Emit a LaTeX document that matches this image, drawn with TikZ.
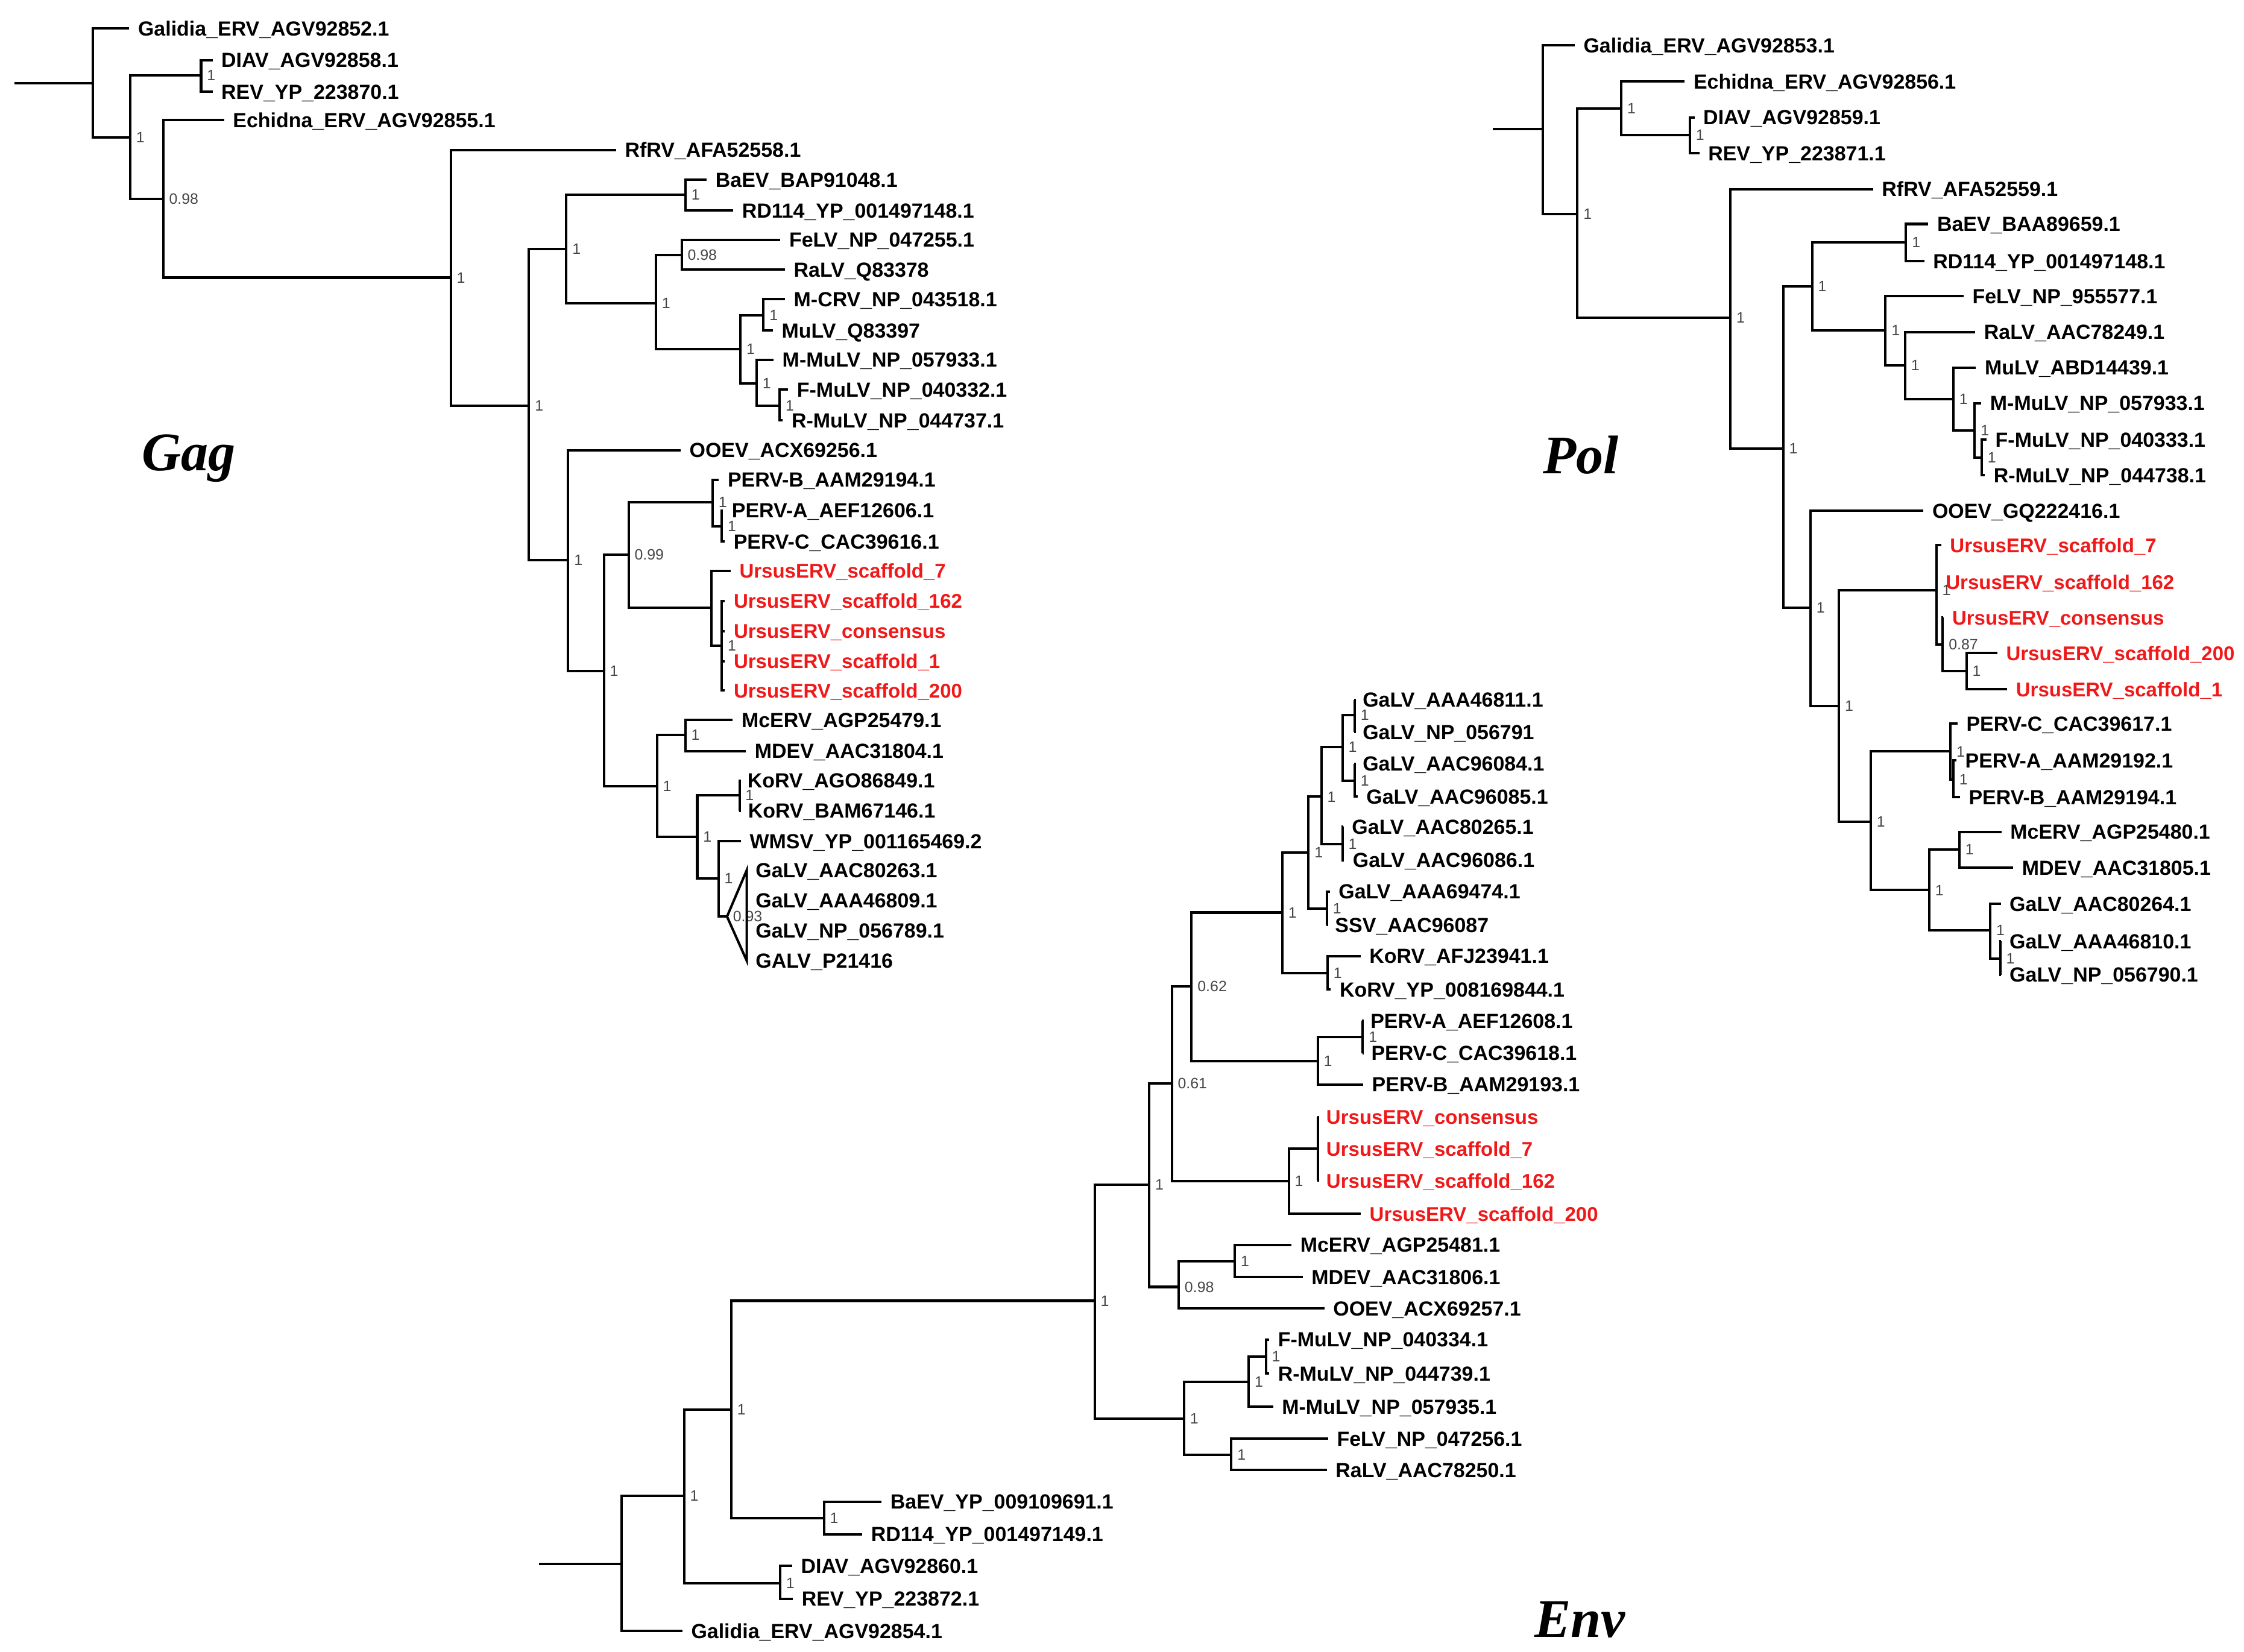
\documentclass[tikz,border=0pt]{standalone}
\usepackage{fontspec}
\setmainfont{Liberation Sans}
\newfontfamily\titlefont{Liberation Serif}
\usetikzlibrary{positioning}
\definecolor{bsgray}{RGB}{70,70,70}
\definecolor{ursusred}{RGB}{240,24,24}
\tikzset
{%
branch/.style={draw, line width=1.7pt, to path={|- (\tikztotarget)}},
leaf/.style={anchor=west, inner xsep=6pt, inner ysep=0pt, text height=10.2pt, text depth=0pt, font=\bfseries\fontsize{14.3}{16}\selectfont},
ursus/.style={leaf, text=ursusred, font=\bfseries\fontsize{13.9}{16}\selectfont},
bslab/.style={inner sep=1pt, xshift=3pt, text=bsgray, font=\fontsize{10.5}{12}\selectfont},
bs/.style={label={[bslab]right:#1}},
title/.style={anchor=base west, inner sep=0pt, font=\titlefont\bfseries\itshape\fontsize{38}{40}\selectfont}
}
\begin{document}
\begin{tikzpicture}[x=1pt, y=-1pt]
	\useasboundingbox (0,0) rectangle (1568,1154);

		% [GAG]

		\node[title] (tGag) at (99,329) {Gag};
		\coordinate (g0) at (10,58);
		\coordinate (gA) at (65,58);
		\node[leaf] (gGalidia) at (90.3,20) {Galidia\_ERV\_AGV92852.1};
		\coordinate[bs=1] (gB) at (91,96);
		\coordinate[bs=1] (gC) at (140.5,52.5);
		\node[leaf] (gDIAV) at (148.5,42) {DIAV\_AGV92858.1};
		\node[leaf] (gREV) at (148.5,64) {REV\_YP\_223870.1};
		\coordinate[bs=0.98] (gD) at (114,139);
		\node[leaf] (gEchidna) at (156.6,84) {Echidna\_ERV\_AGV92855.1};
		\coordinate[bs=1] (gE) at (315,194);
		\node[leaf] (gRfRV) at (430.5,104.7) {RfRV\_AFA52558.1};
		\coordinate[bs=1] (gF) at (369.6,283.6);
		\coordinate[bs=1] (gG) at (395.7,174.1);
		\coordinate[bs=1] (gH) at (479,136.2);
		\node[leaf] (gBaEV) at (493.8,125.6) {BaEV\_BAP91048.1};
		\node[leaf] (gRD) at (512.3,147.2) {RD114\_YP\_001497148.1};
		\coordinate[bs=1] (gI) at (458.3,211.9);
		\coordinate[bs=0.98] (gJ) at (476.3,178.3);
		\node[leaf] (gFeLV) at (545.3,167.5) {FeLV\_NP\_047255.1};
		\node[leaf] (gRaLV) at (548.5,188.4) {RaLV\_Q83378};
		\coordinate[bs=1] (gK) at (517.4,244);
		\coordinate[bs=1] (gL) at (533.5,220.4);
		\node[leaf] (gMCRV) at (548.5,209.1) {M-CRV\_NP\_043518.1};
		\node[leaf] (gMuLV) at (540,231) {MuLV\_Q83397};
		\coordinate[bs=1] (gM) at (528.7,267.8);
		\node[leaf] (gMMuLV) at (540.5,251.3) {M-MuLV\_NP\_057933.1};
		\coordinate[bs=1] (gN) at (544.8,283.6);
		\node[leaf] (gFMuLV) at (550.7,272.3) {F-MuLV\_NP\_040332.1};
		\node[leaf] (gRMuLV) at (547,293.8) {R-MuLV\_NP\_044737.1};
		\coordinate[bs=1] (gO) at (397,391.5);
		\node[leaf] (gOOEV) at (475.6,314.6) {OOEV\_ACX69256.1};
		\coordinate[bs=1] (gP) at (422,469);
		\coordinate[bs=0.99] (gQ) at (439.2,387.6);
		\coordinate[bs=1] (gR) at (497.9,351);
		\node[leaf] (gPERVB) at (502.3,335.2) {PERV-B\_AAM29194.1};
		\coordinate[bs=1] (gS) at (504.3,367.6);
		\node[leaf] (gPERVA) at (505.2,356.7) {PERV-A\_AEF12606.1};
		\node[leaf] (gPERVC) at (506.4,378.5) {PERV-C\_CAC39616.1};
		\coordinate (gT) at (497,424.8);
		\node[ursus] (gU7) at (510.5,398.8) {UrsusERV\_scaffold\_7};
		\coordinate[bs=1] (gU) at (504.3,451);
		\node[ursus] (gU162) at (506.5,419.9) {UrsusERV\_scaffold\_162};
		\node[ursus] (gUcons) at (506.5,441) {UrsusERV\_consensus};
		\node[ursus] (gU1) at (506.5,462) {UrsusERV\_scaffold\_1};
		\node[ursus] (gU200) at (506.5,482.4) {UrsusERV\_scaffold\_200};
		\coordinate[bs=1] (gV) at (459,549.4);
		\coordinate[bs=1] (gW) at (478.8,513.7);
		\node[leaf] (gMcERV) at (512,503.2) {McERV\_AGP25479.1};
		\node[leaf] (gMDEV) at (521.2,524.8) {MDEV\_AAC31804.1};
		\coordinate[bs=1] (gX) at (487.2,584.9);
		\coordinate[bs=1] (gY) at (516.7,555.8);
		\node[leaf] (gKoRV1) at (516.1,545.5) {KoRV\_AGO86849.1};
		\node[leaf] (gKoRV2) at (516.5,566.5) {KoRV\_BAM67146.1};
		\coordinate[bs=1] (gZ) at (502,613.7);
		\node[leaf] (gWMSV) at (517.7,587.7) {WMSV\_YP\_001165469.2};
		\coordinate[bs=0.93] (gTri) at (508,640.4);
		\node[leaf] (gGaLV1) at (521.8,608) {GaLV\_AAC80263.1};
		\node[leaf] (gGaLV2) at (521.8,629.2) {GaLV\_AAA46809.1};
		\node[leaf] (gGaLV3) at (521.8,650.2) {GaLV\_NP\_056789.1};
		\node[leaf] (gGaLV4) at (521.8,671.3) {GALV\_P21416};

		\draw[branch] (g0) -- (gA);
		\path[branch] (gA) edge (gGalidia) edge (gB)
		(gB) edge (gC) edge (gD)
		(gC) edge (gDIAV) edge (gREV)
		(gD) edge (gEchidna) edge (gE)
		(gE) edge (gRfRV) edge (gF)
		(gF) edge (gG) edge (gO)
		(gG) edge (gH) edge (gI)
		(gH) edge (gBaEV) edge (gRD)
		(gI) edge (gJ) edge (gK)
		(gJ) edge (gFeLV) edge (gRaLV)
		(gK) edge (gL) edge (gM)
		(gL) edge (gMCRV) edge (gMuLV)
		(gM) edge (gMMuLV) edge (gN)
		(gN) edge (gFMuLV) edge (gRMuLV);
		\path[branch] (gO) edge (gOOEV) edge (gP)
		(gP) edge (gQ) edge (gV)
		(gQ) edge (gR) edge (gT)
		(gR) edge (gPERVB) edge (gS)
		(gS) edge (gPERVA) edge (gPERVC)
		(gT) edge (gU7) edge (gU)
		(gU) edge (gU162) edge (gUcons) edge (gU1) edge (gU200)
		(gV) edge (gW) edge (gX)
		(gW) edge (gMcERV) edge (gMDEV)
		(gX) edge (gY) edge (gZ)
		(gY) edge (gKoRV1) edge (gKoRV2)
		(gZ) edge (gWMSV) edge (gTri);
		\draw[branch] (gTri) -- (gGaLV1.west) -- (gGaLV4.west) -- cycle;

		% [POL]

		\node[title] (tPol) at (1078,331) {Pol};
		\coordinate (p0) at (1043,90.3);
		\coordinate (pA) at (1078.2,90.3);
		\node[leaf] (pGalidia) at (1100.3,31.6) {Galidia\_ERV\_AGV92853.1};
		\coordinate[bs=1] (pB) at (1102.2,149.7);
		\coordinate[bs=1] (pC) at (1132.9,76);
		\node[leaf] (pEchidna) at (1177.2,56.9) {Echidna\_ERV\_AGV92856.1};
		\coordinate[bs=1] (pD) at (1180.8,94.5);
		\node[leaf] (pDIAV) at (1184,82) {DIAV\_AGV92859.1};
		\node[leaf] (pREV) at (1187.4,107.1) {REV\_YP\_223871.1};
		\coordinate[bs=1] (pE) at (1209.1,222);
		\node[leaf] (pRfRV) at (1308.8,132.1) {RfRV\_AFA52559.1};
		\coordinate[bs=1] (pF) at (1246,313.3);
		\coordinate[bs=1] (pG) at (1266.2,200.1);
		\coordinate[bs=1] (pH) at (1331.8,169.3);
		\node[leaf] (pBaEV) at (1347.4,156.5) {BaEV\_BAA89659.1};
		\node[leaf] (pRD) at (1344.6,182.4) {RD114\_YP\_001497148.1};
		\coordinate[bs=1] (pI) at (1317.5,231);
		\node[leaf] (pFeLV) at (1372,206.9) {FeLV\_NP\_955577.1};
		\coordinate[bs=1] (pJ) at (1331.2,255.3);
		\node[leaf] (pRaLV) at (1380.2,232) {RaLV\_AAC78249.1};
		\coordinate[bs=1] (pK) at (1364.9,278.7);
		\node[leaf] (pMuLV) at (1380.7,256.8) {MuLV\_ABD14439.1};
		\coordinate[bs=1] (pL) at (1379.8,300.9);
		\node[leaf] (pMMuLV) at (1384.4,281.7) {M-MuLV\_NP\_057933.1};
		\coordinate[bs=1] (pM) at (1384.7,319.6);
		\node[leaf] (pFMuLV) at (1388.1,307.2) {F-MuLV\_NP\_040333.1};
		\node[leaf] (pRMuLV) at (1386.9,332.1) {R-MuLV\_NP\_044738.1};
		\coordinate[bs=1] (pN) at (1265,424.6);
		\node[leaf] (pOOEV) at (1344,356.9) {OOEV\_GQ222416.1};
		\coordinate[bs=1] (pO) at (1284.9,493.2);
		\coordinate[bs=1] (pP) at (1353,412.6);
		\node[ursus] (pU7) at (1356.4,381) {UrsusERV\_scaffold\_7};
		\node[ursus] (pU162) at (1353.4,406.6) {UrsusERV\_scaffold\_162};
		\coordinate[bs=0.87] (pQ) at (1357.5,450.2);
		\node[ursus] (pUcons) at (1357.9,431.4) {UrsusERV\_consensus};
		\coordinate[bs=1] (pR) at (1374,469);
		\node[ursus] (pU200) at (1395.6,456.2) {UrsusERV\_scaffold\_200};
		\node[ursus] (pU1) at (1402.5,481.5) {UrsusERV\_scaffold\_1};
		\coordinate[bs=1] (pS) at (1307.2,574.2);
		\coordinate[bs=1] (pT) at (1362.9,525.1);
		\node[leaf] (pPERVC) at (1367.8,505.6) {PERV-C\_CAC39617.1};
		\coordinate[bs=1] (pU) at (1364.9,544.6);
		\node[leaf] (pPERVA) at (1367,531.4) {PERV-A\_AAM29192.1};
		\node[leaf] (pPERVB) at (1369.5,557.1) {PERV-B\_AAM29194.1};
		\coordinate[bs=1] (pV) at (1348,622);
		\coordinate[bs=1] (pW) at (1369.1,593.7);
		\node[leaf] (pMcERV) at (1398.5,581.2) {McERV\_AGP25480.1};
		\node[leaf] (pMDEV) at (1406.7,606.2) {MDEV\_AAC31805.1};
		\coordinate[bs=1] (pX) at (1390.7,650.1);
		\node[leaf] (pGaLV1) at (1398,631.6) {GaLV\_AAC80264.1};
		\coordinate[bs=1] (pY) at (1397.6,669.7);
		\node[leaf] (pGaLV2) at (1398,657.6) {GaLV\_AAA46810.1};
		\node[leaf] (pGaLV3) at (1398,681) {GaLV\_NP\_056790.1};

		\draw[branch] (p0) -- (pA);
		\path[branch] (pA) edge (pGalidia) edge (pB)
		(pB) edge (pC) edge (pE)
		(pC) edge (pEchidna) edge (pD)
		(pD) edge (pDIAV) edge (pREV)
		(pE) edge (pRfRV) edge (pF)
		(pF) edge (pG) edge (pN)
		(pG) edge (pH) edge (pI)
		(pH) edge (pBaEV) edge (pRD)
		(pI) edge (pFeLV) edge (pJ)
		(pJ) edge (pRaLV) edge (pK)
		(pK) edge (pMuLV) edge (pL)
		(pL) edge (pMMuLV) edge (pM)
		(pM) edge (pFMuLV) edge (pRMuLV);
		\path[branch] (pN) edge (pOOEV) edge (pO)
		(pO) edge (pP) edge (pS)
		(pP) edge (pU7) edge (pU162) edge (pQ)
		(pQ) edge (pUcons) edge (pR)
		(pR) edge (pU200) edge (pU1)
		(pS) edge (pT) edge (pV)
		(pT) edge (pPERVC) edge (pU)
		(pU) edge (pPERVA) edge (pPERVB)
		(pV) edge (pW) edge (pX)
		(pW) edge (pMcERV) edge (pMDEV)
		(pX) edge (pGaLV1) edge (pY)
		(pY) edge (pGaLV2) edge (pGaLV3);

		% [ENV]

		\node[title] (tEnv) at (1072,1144) {Env};
		\coordinate (e0) at (376.8,1092.6);
		\coordinate (eA) at (434.5,1092.6);
		\node[leaf] (eGalidia) at (476.8,1139.6) {Galidia\_ERV\_AGV92854.1};
		\coordinate[bs=1] (eB) at (478,1045.1);
		\coordinate[bs=1] (eC) at (545.1,1106.3);
		\node[leaf] (eDIAV) at (553.5,1094) {DIAV\_AGV92860.1};
		\node[leaf] (eREV) at (554,1117.1) {REV\_YP\_223872.1};
		\coordinate[bs=1] (eD) at (511,985.1);
		\coordinate[bs=1] (eE) at (575.7,1060.6);
		\node[leaf] (eBaEV) at (616,1049.3) {BaEV\_YP\_009109691.1};
		\node[leaf] (eRD) at (602.5,1072) {RD114\_YP\_001497149.1};
		\coordinate[bs=1] (eF) at (764.9,908.9);
		\coordinate[bs=1] (eG) at (803,827.7);
		\coordinate[bs=0.61] (eH) at (818.8,757);
		\coordinate[bs=0.62] (eI) at (832.6,689.3);
		\coordinate[bs=1] (eJ) at (896,637.6);
		\coordinate[bs=1] (eK) at (914.3,595.8);
		\coordinate[bs=1] (eL) at (923.3,556.7);
		\coordinate[bs=1] (eM) at (938,522.1);
		\coordinate[bs=1] (eN) at (946.6,499.5);
		\node[leaf] (eGaLV1) at (946,489) {GaLV\_AAA46811.1};
		\node[leaf] (eGaLV2) at (946,511.5) {GaLV\_NP\_056791};
		\coordinate[bs=1] (eO) at (946.6,545.4);
		\node[leaf] (eGaLV3) at (946,533.6) {GaLV\_AAC96084.1};
		\node[leaf] (eGaLV4) at (948.6,556.7) {GaLV\_AAC96085.1};
		\coordinate[bs=1] (eP) at (938,589.8);
		\node[leaf] (eGaLV5) at (938.5,577.7) {GaLV\_AAC80265.1};
		\node[leaf] (eGaLV6) at (939.1,601) {GaLV\_AAC96086.1};
		\coordinate[bs=1] (eQ) at (927.2,634.9);
		\node[leaf] (eGaLV7) at (929.2,622.9) {GaLV\_AAA69474.1};
		\node[leaf] (eSSV) at (926.7,646.2) {SSV\_AAC96087};
		\coordinate[bs=1] (eR) at (927.6,680.1);
		\node[leaf] (eKoRV1) at (950.7,668) {KoRV\_AFJ23941.1};
		\node[leaf] (eKoRV2) at (929.9,691.4) {KoRV\_YP\_008169844.1};
		\coordinate[bs=1] (eS) at (920.8,741.5);
		\coordinate[bs=1] (eT) at (952.2,724.6);
		\node[leaf] (ePERVA) at (951.5,713.3) {PERV-A\_AEF12608.1};
		\node[leaf] (ePERVC) at (952,735.9) {PERV-C\_CAC39618.1};
		\node[leaf] (ePERVB) at (952.5,757.7) {PERV-B\_AAM29193.1};
		\coordinate[bs=1] (eU) at (900.5,825.1);
		\coordinate (eV) at (920.8,802.6);
		\node[ursus] (eUcons) at (920.6,780.5) {UrsusERV\_consensus};
		\node[ursus] (eU7) at (920.6,802.6) {UrsusERV\_scaffold\_7};
		\node[ursus] (eU162) at (920.6,825) {UrsusERV\_scaffold\_162};
		\node[ursus] (eU200) at (950.8,848) {UrsusERV\_scaffold\_200};
		\coordinate[bs=0.98] (eW) at (823.6,899.2);
		\coordinate[bs=1] (eX) at (862.8,881.4);
		\node[leaf] (eMcERV) at (902.4,869.8) {McERV\_AGP25481.1};
		\node[leaf] (eMDEV) at (910.2,892.4) {MDEV\_AAC31806.1};
		\node[leaf] (eOOEV) at (925.4,914.2) {OOEV\_ACX69257.1};
		\coordinate[bs=1] (eY) at (827.3,991.1);
		\coordinate[bs=1] (eZ) at (872.5,965.5);
		\coordinate[bs=1] (eZa) at (884.5,947.9);
		\node[leaf] (eFMuLV) at (886.8,936) {F-MuLV\_NP\_040334.1};
		\node[leaf] (eRMuLV) at (886.8,959.8) {R-MuLV\_NP\_044739.1};
		\node[leaf] (eMMuLV) at (889.6,983) {M-MuLV\_NP\_057935.1};
		\coordinate[bs=1] (eZb) at (860.4,1016.4);
		\node[leaf] (eFeLV) at (928,1005.2) {FeLV\_NP\_047256.1};
		\node[leaf] (eRaLV) at (927.1,1027.2) {RaLV\_AAC78250.1};

		\draw[branch] (e0) -- (eA);
		\path[branch] (eA) edge (eB) edge (eGalidia)
		(eB) edge (eD) edge (eC)
		(eC) edge (eDIAV) edge (eREV)
		(eD) edge (eF) edge (eE)
		(eE) edge (eBaEV) edge (eRD)
		(eF) edge (eG) edge (eY)
		(eG) edge (eH) edge (eW)
		(eH) edge (eI) edge (eU)
		(eI) edge (eJ) edge (eS)
		(eJ) edge (eK) edge (eR)
		(eK) edge (eL) edge (eQ)
		(eL) edge (eM) edge (eP)
		(eM) edge (eN) edge (eO);
		\path[branch] (eN) edge (eGaLV1) edge (eGaLV2)
		(eO) edge (eGaLV3) edge (eGaLV4)
		(eP) edge (eGaLV5) edge (eGaLV6)
		(eQ) edge (eGaLV7) edge (eSSV)
		(eR) edge (eKoRV1) edge (eKoRV2)
		(eS) edge (eT) edge (ePERVB)
		(eT) edge (ePERVA) edge (ePERVC)
		(eU) edge (eV) edge (eU200)
		(eV) edge (eUcons) edge (eU7) edge (eU162)
		(eW) edge (eX) edge (eOOEV)
		(eX) edge (eMcERV) edge (eMDEV)
		(eY) edge (eZ) edge (eZb)
		(eZ) edge (eZa) edge (eMMuLV)
		(eZa) edge (eFMuLV) edge (eRMuLV)
		(eZb) edge (eFeLV) edge (eRaLV);
\end{tikzpicture}
\end{document}
